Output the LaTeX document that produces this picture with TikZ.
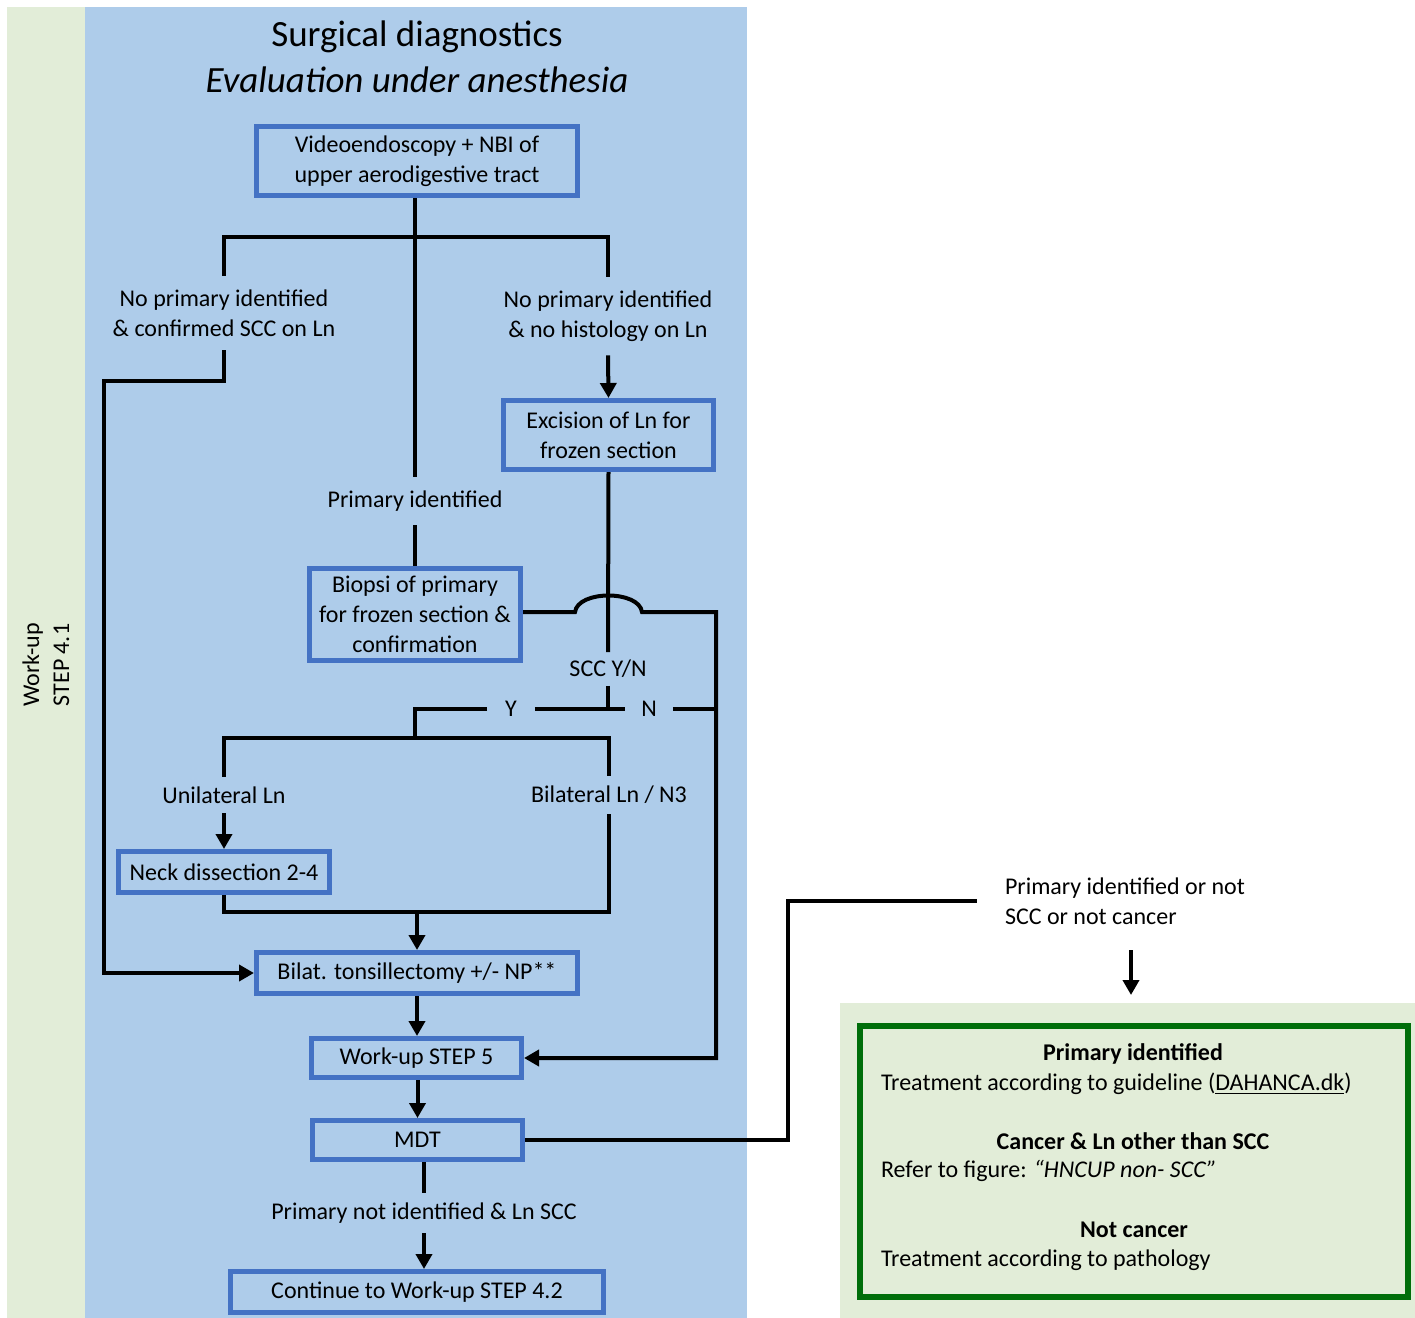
\documentclass[tikz,border=0pt]{standalone}
\usepackage{fontspec}
\setmainfont{Carlito}
\usetikzlibrary{arrows.meta, positioning}

\definecolor{panelblue}{RGB}{174,204,234}
\definecolor{panelgreen}{RGB}{226,237,216}
\definecolor{boxblue}{RGB}{68,114,196}
\definecolor{boxgreen}{RGB}{0,110,10}
\newcommand\fs{\fontsize{12}{15}\selectfont}

\begin{document}
\begin{tikzpicture}[x=0.5pt, y=-0.5pt, line width=2pt,
    stepbox/.style={draw=boxblue, line width=2.5pt, align=center, inner sep=0pt, font=\fs},
    lbl/.style={align=center, inner xsep=2pt, inner ysep=6pt, font=\fs},
    txt/.style={inner sep=0pt, font=\fs},
    arr/.style={-{Triangle[length=7.5pt, width=8pt]}}]
        \useasboundingbox (0,0) rectangle (1415,1318);
        % background panels
        \fill[panelgreen] (7,7) rectangle (85,1318);
        \fill[panelblue] (85,7) rectangle (747,1318);
        \fill[panelgreen] (840,1003) rectangle (1415,1318);

        % titles
        \node[font=\fontsize{18.5}{23}\selectfont, align=center] (title) at (417,57)
            {Surgical diagnostics\\\textit{Evaluation under anesthesia}};
        \node[rotate=90, align=center, font=\fs] (stepname) at (46,665) {Work-up\\STEP 4.1};

        % boxes
        \node[stepbox, minimum width=160.5pt, minimum height=34.5pt] (video) at (417,161)
            {Videoendoscopy + NBI of\\upper aerodigestive tract};
        \node[stepbox, minimum width=105pt, minimum height=34.5pt] (excision) at (608.5,435)
            {Excision of Ln for\\frozen section};
        \node[stepbox, minimum width=105.5pt, minimum height=46pt] (biopsi) at (415,614.5)
            {Biopsi of primary\\for frozen section \&\\confirmation};
        \node[stepbox, minimum width=105.5pt, minimum height=20.5pt] (neck) at (224,872)
            {Neck dissection 2-4};
        \node[stepbox, minimum width=160.5pt, minimum height=20.5pt] (bilat) at (417,973)
            {Bilat. tonsillectomy +/- NP**};
        \node[stepbox, minimum width=105pt, minimum height=19.5pt] (wu5) at (416.5,1058)
            {Work-up STEP 5};
        \node[stepbox, minimum width=105pt, minimum height=19.5pt] (mdt) at (417.5,1140)
            {MDT};
        \node[stepbox, minimum width=186.5pt, minimum height=20.5pt] (cont) at (417,1292)
            {Continue to Work-up STEP 4.2};

        % branch labels
        \node[lbl] (prim) at (415,501) {Primary identified};
        \node[lbl] (nopL) at (224,313) {No primary identified\\\& confirmed SCC on Ln};
        \node[lbl] (nopR) at (608,316) {No primary identified\\\& no histology on Ln};
        \node[lbl, inner ysep=3pt] (sccyn) at (608,669) {SCC Y/N};
        \node[lbl, inner xsep=8pt] (ylab) at (511,709) {Y};
        \node[lbl, inner xsep=7pt] (nlab) at (649,709) {N};
        \node[lbl, inner ysep=4pt] (unil) at (224,795) {Unilateral Ln};
        \node[lbl, inner ysep=4pt] (bilatln) at (609,795) {Bilateral Ln / N3};
        \node[lbl, inner ysep=4pt] (pni) at (424,1213) {Primary not identified \& Ln SCC};
        \node[lbl, align=left, anchor=west, inner xsep=13pt] (pin) at (977,901)
            {Primary identified or not\\SCC or not cancer};

        % outcome box
        \node[draw=boxgreen, line width=3pt, minimum width=274pt, minimum height=135.5pt] (outcome) at (1134,1161.5) {};
        \node[txt, font=\fs\bfseries] (h1) at (1133,1054) {Primary identified};
        \node[txt, anchor=west] (t1) at (879,1084) {Treatment according to guideline (\underline{DAHANCA.dk})};
        \node[txt, font=\fs\bfseries] (h2) at (1133,1141) {Cancer \& Ln other than SCC};
        \node[txt, anchor=west] (t2) at (879,1171) {Refer to figure: \textit{“HNCUP non- SCC”}};
        \node[txt, font=\fs\bfseries] (h3) at (1134,1230) {Not cancer};
        \node[txt, anchor=west] (t3) at (879,1260) {Treatment according to pathology};

        % helper points
        \coordinate (bar) at (415,237);
        \coordinate (lft) at (104,381);
        \coordinate (hopL) at (575,612);
        \coordinate (hopR) at (642,612);
        \coordinate (nrt) at (716,612);
        \coordinate (ybar) at (415,738);
        \coordinate (join) at (417,912);
        \coordinate (turn) at (788,901);
        \coordinate (atop) at (1131,950);
        \coordinate (abot) at (1131,995);

        % connectors
        \draw (prim.north |- video.south) -- (prim.north);
        \draw (prim.south) -- (prim.south |- biopsi.north);
        \draw (nopL.north) -- (nopL.north |- bar) -| (nopR.north);
        \draw[arr] (nopL.south) |- (lft) |- (bilat.west);
        \draw[arr] (nopR.south) -- (excision.north);
        \draw (excision.south) -- (sccyn.north);
        % biopsi result hops over the excision line
        \draw[arr] (biopsi.east |- hopL) -- (hopL) .. controls +(3,-22) and +(-3,-22) .. (hopR)
            -- (nrt) |- (wu5.east);
        \draw (sccyn.south) -- (sccyn.south |- ylab.east);
        \draw (ylab.east) -- (nlab.west);
        \draw (nlab.east) -- (nlab.east -| nrt);
        \draw (ylab.west) -| (ybar);
        \draw (unil.north) |- (ybar) -| (bilatln.north);
        \draw[arr] (unil.south) -- (neck.north);
        \draw (neck.south) |- (join) -| (bilatln.south);
        \draw[arr] (join) -- (bilat.north);
        \draw[arr] (bilat.south) -- (bilat.south |- wu5.north);
        \draw[arr] (wu5.south -| mdt) -- (mdt.north);
        \draw (mdt.south -| pni) -- (pni.north);
        \draw[arr] (pni.south) -- (pni.south |- cont.north);
        \draw (mdt.east) -| (turn) -- (pin.west);
        \draw[arr] (atop) -- (abot);
\end{tikzpicture}
\end{document}
